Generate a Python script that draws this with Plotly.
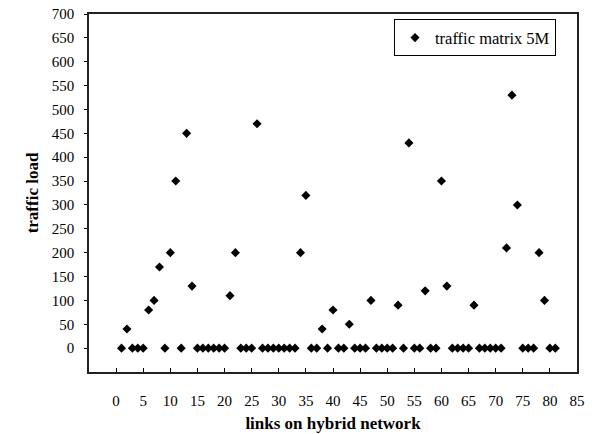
import plotly.graph_objects as go

links = list(range(1, 82))
traffic = [0, 40, 0, 0, 0, 80, 100, 170, 0, 200,
           350, 0, 450, 130, 0, 0, 0, 0, 0, 0,
           110, 200, 0, 0, 0, 470, 0, 0, 0, 0,
           0, 0, 0, 200, 320, 0, 0, 40, 0, 80,
           0, 0, 50, 0, 0, 0, 100, 0, 0, 0,
           0, 90, 0, 430, 0, 0, 120, 0, 0, 350,
           130, 0, 0, 0, 0, 90, 0, 0, 0, 0,
           0, 210, 530, 300, 0, 0, 0, 200, 100, 0,
           0]
x_ticks = list(range(0, 90, 5))
y_ticks = list(range(0, 750, 50))

FONT = "Liberation Serif, Times New Roman, serif"

fig = go.Figure()
fig.add_trace(go.Scatter(
    x=links, y=traffic, mode="markers", name="traffic matrix 5M",
    marker=dict(symbol="diamond", size=7, color="black"),
    showlegend=True,
))

fig.update_layout(
    width=592, height=434,
    margin=dict(l=89, r=15, t=14, b=62),
    paper_bgcolor="white", plot_bgcolor="white",
    font=dict(family=FONT, size=15, color="black"),
    showlegend=True,
    legend=dict(
        x=0.957, xanchor="right", y=0.985, yanchor="top",
        bordercolor="black", borderwidth=1, bgcolor="white",
        font=dict(family=FONT, size=16.5, color="black"),
        itemwidth=30, tracegroupgap=0,
    ),
    xaxis=dict(
        range=[-5, 85], tickvals=x_ticks, ticktext=[str(v) for v in x_ticks],
        ticks="inside", ticklen=4, tickcolor="black",
        showline=True, linecolor="#222", linewidth=1.5, mirror=True,
        showgrid=False, zeroline=False, ticklabelstandoff=14,
        automargin=False,
        title=dict(text="<b>links on hybrid network</b>", standoff=9,
                   font=dict(family=FONT, size=17)),
    ),
    yaxis=dict(
        range=[-50, 700], tickvals=y_ticks, ticktext=[str(v) for v in y_ticks],
        ticks="outside", ticklen=3, tickcolor="black",
        showline=True, linecolor="#222", linewidth=1.5, mirror=True,
        showgrid=False, zeroline=False, ticklabelstandoff=7,
        automargin=False,
        title=dict(text="<b>traffic load</b>", standoff=9,
                   font=dict(family=FONT, size=17)),
    ),
)

fig.write_html("out.html", config={"displayModeBar": False},
               post_script="document.body.style.margin='0';")
